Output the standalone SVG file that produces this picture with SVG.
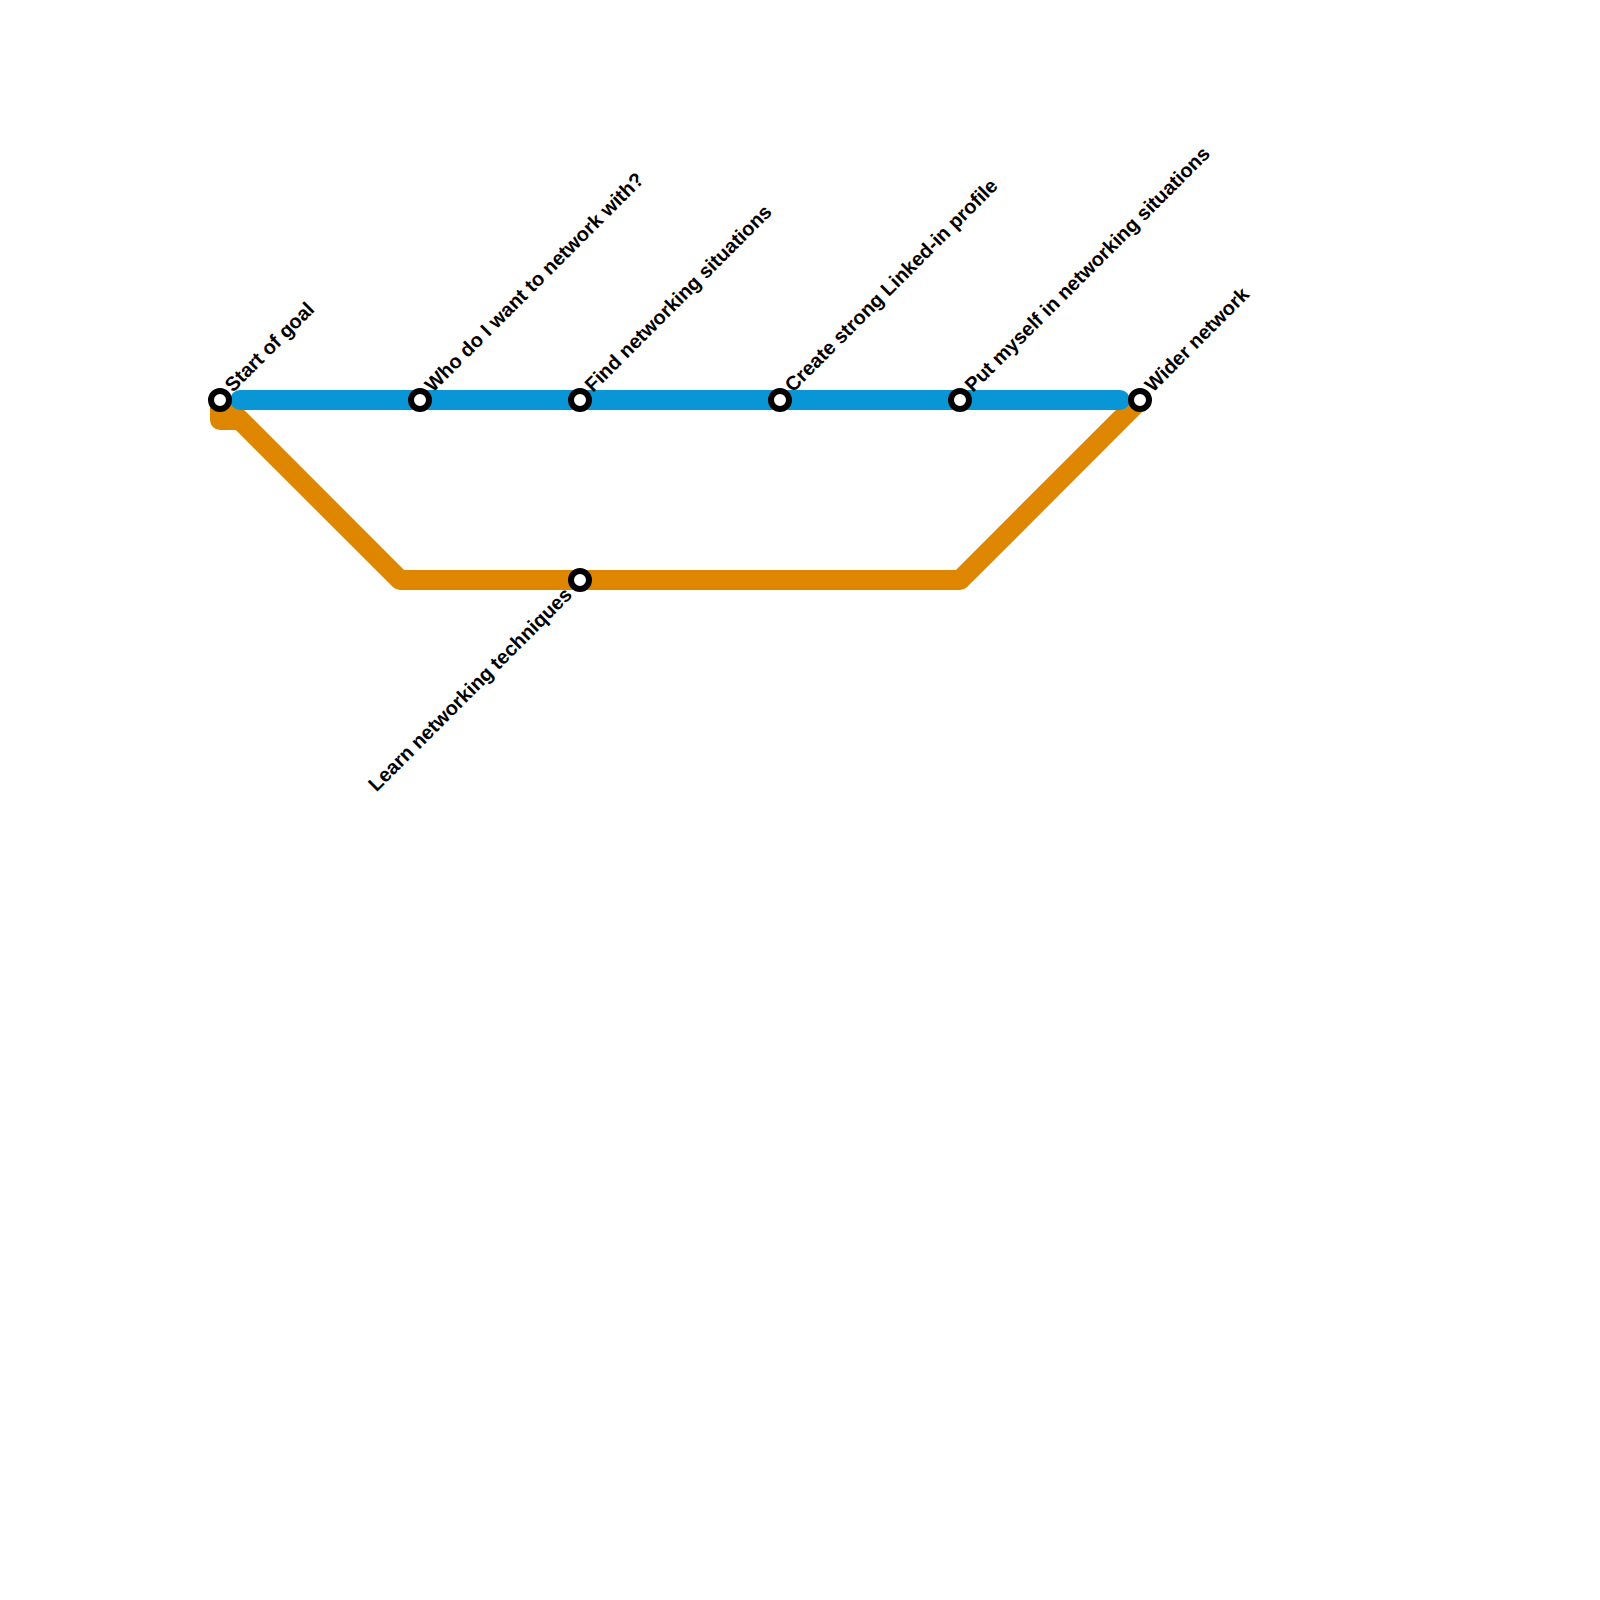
<svg xmlns="http://www.w3.org/2000/svg" width="1600" height="1600" viewBox="0 0 1600 1600">
<style>
.line{fill:none;stroke-width:20;stroke-linecap:round;stroke-linejoin:round}
.st{fill:#fff;stroke:#000;stroke-width:6}
text{font-family:"Liberation Sans",Arial,sans-serif;font-size:20px;font-weight:bold;fill:#000}
</style>
<rect width="1600" height="1600" fill="#fff"/>
<g id="connectors">
<path class="line" stroke="#df8600" d="M220 400V420H240M220 400L400 580H960L1140 400"/>
<path class="line" stroke="#0896d7" d="M240 400H1120"/>
</g>
<g id="n1"><circle class="st" cx="220" cy="400" r="9"/><text transform="translate(233 393) rotate(-45)">Start of goal</text></g>
<g id="n2"><circle class="st" cx="420" cy="400" r="9"/><text transform="translate(433 393) rotate(-45)">Who do I want to network with?</text></g>
<g id="n3"><circle class="st" cx="580" cy="400" r="9"/><text transform="translate(593 393) rotate(-45)">Find networking situations</text></g>
<g id="n4"><circle class="st" cx="780" cy="400" r="9"/><text transform="translate(793 393) rotate(-45)">Create strong Linked-in profile</text></g>
<g id="n5"><circle class="st" cx="960" cy="400" r="9"/><text transform="translate(973 393) rotate(-45)">Put myself in networking situations</text></g>
<g id="n6"><circle class="st" cx="1140" cy="400" r="9"/><text transform="translate(1153 393) rotate(-45)">Wider network</text></g>
<g id="n7"><circle class="st" cx="580" cy="580" r="9"/><text text-anchor="end" transform="translate(573 596) rotate(-45)">Learn networking techniques</text></g>
</svg>
